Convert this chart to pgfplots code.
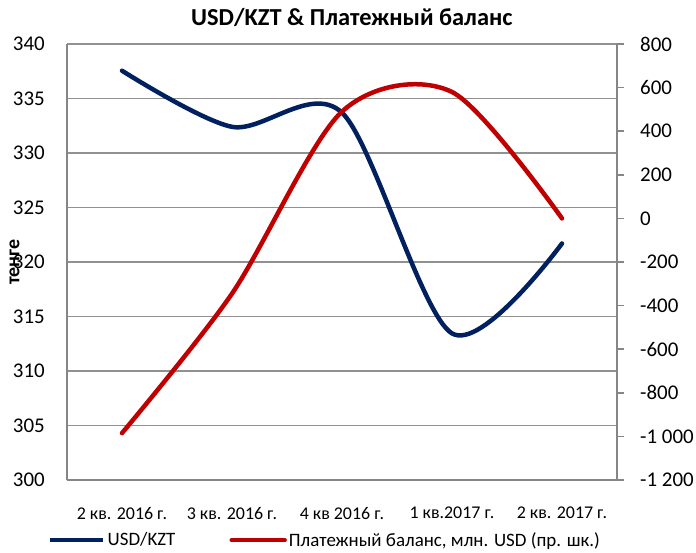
\documentclass[border=0pt]{standalone}
\usepackage{pgfplots}
\pgfplotsset{compat=1.18}
\usepackage{fontspec}
\setmainfont{Carlito}
\definecolor{kzblue}{RGB}{0,32,96}
\definecolor{kzred}{RGB}{192,0,0}
\definecolor{axgray}{RGB}{134,134,134}
\definecolor{grd}{RGB}{145,145,145}
\begin{document}
\begin{tikzpicture}[x=1bp,y=1bp]
\begin{axis}[
  at={(67bp,73bp)}, anchor=south west,
  scale only axis, width=550bp, height=436bp,
  xmin=-0.5, xmax=4.5, ymin=300, ymax=340,
  axis x line*=bottom, axis y line*=left,
  axis line style={draw=axgray, line width=1.5bp, -},
  xtick={0,1,2,3,4},
  xticklabels={2 кв. 2016 г., 3 кв. 2016 г., 4 кв 2016 г., 1 кв.2017 г., 2 кв. 2017 г.},
  ytick={300,305,310,315,320,325,330,335,340},
  yticklabels={300,305,310,315,320,325,330,335,340},
  major tick length=0pt,
  ymajorgrids, grid style={draw=grd, line width=1.5bp},
  xticklabel style={font=\fontsize{18}{18}\selectfont, inner sep=0pt, anchor=north, yshift=-27bp},
  yticklabel style={font=\fontsize{21}{21}\selectfont, inner sep=0pt, anchor=east, xshift=-22bp},
  ylabel={\textbf{тенге}},
  ylabel style={font=\fontsize{20}{20}\selectfont, at={(axis description cs:-0.0955,0.5)}, anchor=center},
  title={\textbf{USD/KZT \& Платежный баланс}},
  title style={font=\fontsize{24.5}{24.5}\selectfont, at={(axis description cs:0.518,1.047)}, anchor=center},
  clip=false,
]
\addplot[kzblue, line width=4.5bp, smooth, tension=0.5, line cap=round] coordinates {
  (0,337.55) (1,332.4) (2,333.7) (3,313.45) (4,321.7)};
\end{axis}
\begin{axis}[
  at={(67bp,73bp)}, anchor=south west,
  scale only axis, width=550bp, height=436bp,
  xmin=-0.5, xmax=4.5, ymin=-1200, ymax=800,
  axis x line=none, axis y line*=right,
  axis line style={draw=axgray, line width=1.5bp, -},
  ytick={-1200,-1000,-800,-600,-400,-200,0,200,400,600,800},
  yticklabels={-1 200,-1 000,-800,-600,-400,-200,0,200,400,600,800},
  tick align=outside, major tick length=7bp,
  tick style={draw=axgray, line width=1.5bp},
  yticklabel style={font=\fontsize{21}{21}\selectfont, inner sep=0pt, anchor=west, xshift=16bp},
  clip=false,
  legend columns=2,
  legend style={at={(axis description cs:-0.0345,-0.138)}, anchor=west, draw=none, fill=none,
    inner sep=0pt, font=\fontsize{19}{19}\selectfont,
    /tikz/every even column/.append style={column sep=52bp},
    nodes={inner sep=2bp}},
  legend image code/.code={\draw[#1, line width=4.5bp] (0bp,0bp) -- (53bp,0bp);},
]
\addlegendimage{kzblue, line width=4.5bp}
\addlegendentry{USD/KZT}
\addplot[kzred, line width=4.5bp, smooth, tension=0.5, line cap=round] coordinates {
  (0,-985) (1,-345) (2,490) (3,580) (4,0)};
\addlegendentry{Платежный баланс, млн. USD (пр. шк.)}
\end{axis}
\pgfresetboundingbox
\path[use as bounding box] (0,0) rectangle (696bp,553bp);
\end{tikzpicture}
\end{document}
